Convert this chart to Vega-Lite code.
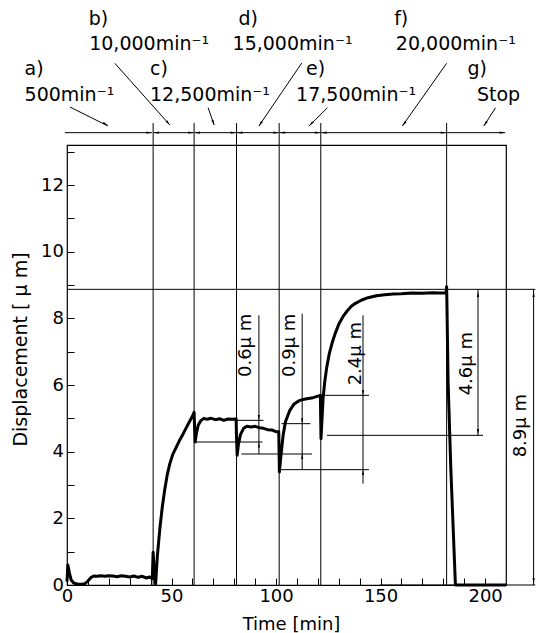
{
  "$schema": "https://vega.github.io/schema/vega-lite/v6.json",
  "width": 439,
  "height": 440,
  "autosize": {"type": "none"},
  "padding": {"left": 67, "top": 145, "right": 30, "bottom": 48},
  "background": "white",
  "config": {
    "view": {"stroke": "black", "strokeWidth": 1.2},
    "font": "DejaVu Sans",
    "text": {"font": "DejaVu Sans", "color": "black"},
    "axis": {"grid": false, "labelOverlap": false, "labelFlush": false, "labelBound": false}
  },
  "resolve": {"axis": {"x": "independent", "y": "independent"}},
  "datasets": {
    "curve": [
      {"t":0,"v":0.1},{"t":0.4,"v":0.6},{"t":1.1,"v":0.38},{"t":2,"v":0.15},{"t":3.2,"v":0.06},{"t":5,"v":0.03},{"t":7,"v":0.02},{"t":8.6,"v":0.04},{"t":10,"v":0.12},{"t":11.4,"v":0.22},{"t":12.8,"v":0.27},{"t":14.5,"v":0.26},{"t":16,"v":0.28},{"t":18,"v":0.26},{"t":20,"v":0.28},{"t":22,"v":0.27},{"t":24,"v":0.25},{"t":26,"v":0.28},{"t":28,"v":0.26},{"t":30,"v":0.24},{"t":32,"v":0.27},{"t":34,"v":0.23},{"t":36,"v":0.26},{"t":38,"v":0.21},{"t":39.5,"v":0.24},{"t":40.8,"v":0.19},{"t":41.2,"v":0.98},{"t":41.7,"v":0.45},{"t":42.4,"v":0.03},{"t":43.2,"v":0.85},{"t":44.4,"v":1.68},{"t":45.6,"v":2.35},{"t":46.8,"v":2.88},{"t":48,"v":3.32},{"t":49.2,"v":3.64},{"t":50.6,"v":3.92},{"t":52.4,"v":4.15},{"t":54,"v":4.36},{"t":55.6,"v":4.54},{"t":57.4,"v":4.76},{"t":59,"v":4.95},{"t":60.3,"v":5.1},{"t":60.8,"v":5.18},{"t":61.0,"v":4.8},{"t":61.3,"v":4.29},{"t":61.9,"v":4.55},{"t":62.8,"v":4.8},{"t":64,"v":4.93},{"t":65.5,"v":5.0},{"t":67,"v":4.97},{"t":69,"v":5.0},{"t":71,"v":4.96},{"t":73,"v":4.99},{"t":75,"v":4.94},{"t":77,"v":4.98},{"t":79,"v":4.97},{"t":80.9,"v":4.98},{"t":81.1,"v":4.4},{"t":81.4,"v":3.89},{"t":82,"v":4.22},{"t":83,"v":4.52},{"t":84.5,"v":4.7},{"t":86,"v":4.76},{"t":88,"v":4.74},{"t":90,"v":4.76},{"t":92,"v":4.72},{"t":94,"v":4.7},{"t":96,"v":4.66},{"t":98,"v":4.65},{"t":100,"v":4.6},{"t":101.3,"v":4.6},{"t":101.6,"v":3.39},{"t":102.2,"v":3.8},{"t":103.4,"v":4.5},{"t":104.5,"v":4.9},{"t":106.6,"v":5.24},{"t":108.5,"v":5.42},{"t":111,"v":5.53},{"t":114,"v":5.58},{"t":117.7,"v":5.62},{"t":120.8,"v":5.68},{"t":121.2,"v":5.69},{"t":121.5,"v":4.39},{"t":122,"v":5.0},{"t":122.5,"v":5.6},{"t":123.3,"v":6.1},{"t":124.3,"v":6.55},{"t":125.5,"v":6.95},{"t":127,"v":7.3},{"t":128.5,"v":7.58},{"t":130,"v":7.82},{"t":132,"v":8.05},{"t":134,"v":8.22},{"t":136,"v":8.36},{"t":138,"v":8.45},{"t":141,"v":8.55},{"t":144,"v":8.62},{"t":148,"v":8.68},{"t":152,"v":8.71},{"t":156,"v":8.73},{"t":160,"v":8.74},{"t":165,"v":8.76},{"t":170,"v":8.75},{"t":175,"v":8.77},{"t":178,"v":8.76},{"t":181.3,"v":8.77},{"t":181.6,"v":8.95},{"t":181.7,"v":8.6},{"t":182.3,"v":6.1},{"t":183.6,"v":3.5},{"t":185.8,"v":0},{"t":190,"v":0},{"t":200,"v":0},{"t":210,"v":0}
    ],
    "vlines": [
      {"t":41.2,"v":0,"v2":13.86},{"t":60.8,"v":0,"v2":13.86},{"t":81.1,"v":0,"v2":13.86},{"t":101.5,"v":0,"v2":13.86},{"t":121.4,"v":0,"v2":13.86},{"t":181.6,"v":0,"v2":13.86},
      {"t":91.8,"v":3.93,"v2":8.09},{"t":112.5,"v":3.46,"v2":8.14},{"t":141.6,"v":3.04,"v2":8.09},{"t":196.6,"v":4.49,"v2":8.87},{"t":223.2,"v":0,"v2":8.87}
    ],
    "hlines": [
      {"v":8.87,"t":0,"t2":224},{"v":0,"t":149.6,"t2":224},{"v":4.49,"t":124.4,"t2":199},{"v":5.69,"t":121,"t2":144.5},{"v":3.46,"t":101.8,"t2":144.5},{"v":4.84,"t":102.6,"t2":116.4},{"v":3.93,"t":83.5,"t2":117.2},{"v":4.94,"t":81.3,"t2":94},{"v":4.29,"t":61.2,"t2":93.5},
      {"v":13.57,"t":-1,"t2":40.6},{"v":13.57,"t":41.4,"t2":60.6},{"v":13.57,"t":61,"t2":80.9},{"v":13.57,"t":81.3,"t2":101.3},{"v":13.57,"t":101.7,"t2":121.2},{"v":13.57,"t":121.6,"t2":181.4},{"v":13.57,"t":181.8,"t2":209.6}
    ],
    "pointers": [
      {"t":1.4,"v":14.34,"t2":19.6,"v2":13.77},{"t":22.9,"v":15.65,"t2":49.2,"v2":13.8},{"t":67.5,"v":14.32,"t2":70.4,"v2":13.8},{"t":112.3,"v":15.66,"t2":91.8,"v2":13.77},{"t":124.6,"v":14.32,"t2":115.8,"v2":13.77},{"t":181.6,"v":15.65,"t2":160.4,"v2":13.77},{"t":205.0,"v":14.32,"t2":199.4,"v2":13.77}
    ],
    "heads": [
      {"t":39.3,"v":13.57,"dir":"right"},{"t":59.3,"v":13.57,"dir":"right"},{"t":79.6,"v":13.57,"dir":"right"},{"t":100.0,"v":13.57,"dir":"right"},{"t":119.9,"v":13.57,"dir":"right"},{"t":180.1,"v":13.57,"dir":"right"},{"t":208.3,"v":13.57,"dir":"right"},
      {"t":42.7,"v":13.57,"dir":"left"},{"t":62.3,"v":13.57,"dir":"left"},{"t":82.6,"v":13.57,"dir":"left"},{"t":103.0,"v":13.57,"dir":"left"},{"t":122.9,"v":13.57,"dir":"left"},
      {"t":91.8,"v":5.02,"dir":"down"},{"t":91.8,"v":4.21,"dir":"up"},{"t":112.5,"v":4.92,"dir":"down"},{"t":112.5,"v":3.86,"dir":"up"},{"t":141.6,"v":5.77,"dir":"down"},{"t":141.6,"v":3.38,"dir":"up"},{"t":196.6,"v":8.72,"dir":"up"},{"t":196.6,"v":4.6,"dir":"down"},{"t":223.2,"v":8.72,"dir":"up"},{"t":223.2,"v":0.13,"dir":"down"},
      {"t":18.45,"v":13.83,"dir":"a"},{"t":48.4,"v":13.86,"dir":"b"},{"t":70.0,"v":13.87,"dir":"c"},{"t":92.5,"v":13.83,"dir":"d"},{"t":116.7,"v":13.83,"dir":"e"},{"t":161.2,"v":13.83,"dir":"d"},{"t":200.1,"v":13.84,"dir":"d"}
    ],
    "labels": [
      {"t":-20.3,"v":15.29,"text":"a)"},{"t":-20.3,"v":14.52,"text":"500min⁻¹"},
      {"t":10.4,"v":16.79,"text":"b)"},{"t":10.6,"v":16.04,"text":"10,000min⁻¹"},
      {"t":39.7,"v":15.29,"text":"c)"},{"t":39.7,"v":14.52,"text":"12,500min⁻¹"},
      {"t":82.0,"v":16.79,"text":"d)"},{"t":79.2,"v":16.04,"text":"15,000min⁻¹"},
      {"t":114.3,"v":15.29,"text":"e)"},{"t":109.6,"v":14.52,"text":"17,500min⁻¹"},
      {"t":156.5,"v":16.79,"text":"f)"},{"t":157.3,"v":16.04,"text":"20,000min⁻¹"},
      {"t":191.6,"v":15.29,"text":"g)"},{"t":196.1,"v":14.52,"text":"Stop"}
    ],
    "rlabels": [
      {"t":87.9,"v":7.19,"text":"0.6μ m"},{"t":109.0,"v":7.19,"text":"0.9μ m"},{"t":140.5,"v":6.94,"text":"2.4μ m"},{"t":193.9,"v":6.64,"text":"4.6μ m"},{"t":219.6,"v":4.78,"text":"8.9μ m"}
    ]
  },
  "layer": [
    {
      "data": {"name": "curve"},
      "mark": {"type": "line", "color": "black", "strokeWidth": 3, "strokeJoin": "round"},
      "encoding": {
        "x": {
          "field": "t", "type": "quantitative",
          "scale": {"domain": [0, 210], "nice": false, "zero": false},
          "axis": {
            "values": [0,10,20,30,40,50,60,70,80,90,100,110,120,130,140,150,160,170,180,190,200],
            "labelExpr": "datum.value % 50 === 0 ? datum.label : ''",
            "offset": -7, "tickSize": 7, "domain": false, "ticks": true, "tickWidth": 1,
            "labelPadding": 2.5,
            "labelFont": "DejaVu Sans", "labelFontSize": 18, "labelColor": "black",
            "tickColor": "black", "labelOverlap": false, "labelFlush": false, "grid": false,
            "title": "Time [min]", "titleFont": "DejaVu Sans", "titleFontSize": 18, "titleFontWeight": "normal", "titleColor": "black",
            "titleX": 224, "titleY": 51, "titleBaseline": "alphabetic"
          }
        },
        "y": {
          "field": "v", "type": "quantitative",
          "scale": {"domain": [0, 13.2], "nice": false, "zero": false},
          "axis": {
            "values": [0,1,2,3,4,5,6,7,8,9,10,11,12,13],
            "labelExpr": "datum.value % 2 === 0 ? datum.label : ''",
            "offset": -7, "tickSize": 7, "domain": false, "ticks": true, "tickWidth": 1,
            "labelPadding": 3.5,
            "labelFont": "DejaVu Sans", "labelFontSize": 18, "labelColor": "black",
            "tickColor": "black", "labelOverlap": false, "labelFlush": false, "grid": false,
            "title": "Displacement [ μ m]", "titleFont": "DejaVu Sans", "titleFontSize": 19, "titleFontWeight": "normal", "titleColor": "black",
            "titleX": -47.3, "titleY": 204, "titleBaseline": "alphabetic"
          }
        }
      }
    },
    {
      "data": {"name": "vlines"},
      "mark": {"type": "rule", "color": "black", "strokeWidth": 1},
      "encoding": {
        "x": {"field": "t", "type": "quantitative", "scale": {"domain": [0, 210], "nice": false, "zero": false}, "axis": null},
        "y": {"field": "v", "type": "quantitative", "scale": {"domain": [0, 13.2], "nice": false, "zero": false}, "axis": null},
        "y2": {"field": "v2"}
      }
    },
    {
      "data": {"name": "hlines"},
      "mark": {"type": "rule", "color": "black", "strokeWidth": 1},
      "encoding": {
        "x": {"field": "t", "type": "quantitative", "scale": {"domain": [0, 210], "nice": false, "zero": false}, "axis": null},
        "x2": {"field": "t2"},
        "y": {"field": "v", "type": "quantitative", "scale": {"domain": [0, 13.2], "nice": false, "zero": false}, "axis": null}
      }
    },
    {
      "data": {"name": "pointers"},
      "mark": {"type": "rule", "color": "black", "strokeWidth": 1},
      "encoding": {
        "x": {"field": "t", "type": "quantitative", "scale": {"domain": [0, 210], "nice": false, "zero": false}, "axis": null},
        "x2": {"field": "t2"},
        "y": {"field": "v", "type": "quantitative", "scale": {"domain": [0, 13.2], "nice": false, "zero": false}, "axis": null},
        "y2": {"field": "v2"}
      }
    },
    {
      "data": {"name": "heads"},
      "transform": [{"filter": "datum.dir === 'right'"}],
      "mark": {"type": "point", "shape": "M0,-1L0.4,1L-0.4,1Z", "filled": true, "color": "black", "opacity": 1, "size": 30, "angle": 90},
      "encoding": {
        "x": {"field": "t", "type": "quantitative", "scale": {"domain": [0, 210], "nice": false, "zero": false}, "axis": null},
        "y": {"field": "v", "type": "quantitative", "scale": {"domain": [0, 13.2], "nice": false, "zero": false}, "axis": null}
      }
    },
    {
      "data": {"name": "heads"},
      "transform": [{"filter": "datum.dir === 'left'"}],
      "mark": {"type": "point", "shape": "M0,-1L0.4,1L-0.4,1Z", "filled": true, "color": "black", "opacity": 1, "size": 30, "angle": 270},
      "encoding": {
        "x": {"field": "t", "type": "quantitative", "scale": {"domain": [0, 210], "nice": false, "zero": false}, "axis": null},
        "y": {"field": "v", "type": "quantitative", "scale": {"domain": [0, 13.2], "nice": false, "zero": false}, "axis": null}
      }
    },
    {
      "data": {"name": "heads"},
      "transform": [{"filter": "datum.dir === 'up'"}],
      "mark": {"type": "point", "shape": "M0,-1L0.4,1L-0.4,1Z", "filled": true, "color": "black", "opacity": 1, "size": 30, "angle": 0},
      "encoding": {
        "x": {"field": "t", "type": "quantitative", "scale": {"domain": [0, 210], "nice": false, "zero": false}, "axis": null},
        "y": {"field": "v", "type": "quantitative", "scale": {"domain": [0, 13.2], "nice": false, "zero": false}, "axis": null}
      }
    },
    {
      "data": {"name": "heads"},
      "transform": [{"filter": "datum.dir === 'down'"}],
      "mark": {"type": "point", "shape": "M0,-1L0.4,1L-0.4,1Z", "filled": true, "color": "black", "opacity": 1, "size": 30, "angle": 180},
      "encoding": {
        "x": {"field": "t", "type": "quantitative", "scale": {"domain": [0, 210], "nice": false, "zero": false}, "axis": null},
        "y": {"field": "v", "type": "quantitative", "scale": {"domain": [0, 13.2], "nice": false, "zero": false}, "axis": null}
      }
    },
    {
      "data": {"name": "heads"},
      "transform": [{"filter": "datum.dir === 'a'"}],
      "mark": {"type": "point", "shape": "M0,-1L0.4,1L-0.4,1Z", "filled": true, "color": "black", "opacity": 1, "size": 30, "angle": 117},
      "encoding": {
        "x": {"field": "t", "type": "quantitative", "scale": {"domain": [0, 210], "nice": false, "zero": false}, "axis": null},
        "y": {"field": "v", "type": "quantitative", "scale": {"domain": [0, 13.2], "nice": false, "zero": false}, "axis": null}
      }
    },
    {
      "data": {"name": "heads"},
      "transform": [{"filter": "datum.dir === 'b'"}],
      "mark": {"type": "point", "shape": "M0,-1L0.4,1L-0.4,1Z", "filled": true, "color": "black", "opacity": 1, "size": 30, "angle": 138},
      "encoding": {
        "x": {"field": "t", "type": "quantitative", "scale": {"domain": [0, 210], "nice": false, "zero": false}, "axis": null},
        "y": {"field": "v", "type": "quantitative", "scale": {"domain": [0, 13.2], "nice": false, "zero": false}, "axis": null}
      }
    },
    {
      "data": {"name": "heads"},
      "transform": [{"filter": "datum.dir === 'c'"}],
      "mark": {"type": "point", "shape": "M0,-1L0.4,1L-0.4,1Z", "filled": true, "color": "black", "opacity": 1, "size": 30, "angle": 161},
      "encoding": {
        "x": {"field": "t", "type": "quantitative", "scale": {"domain": [0, 210], "nice": false, "zero": false}, "axis": null},
        "y": {"field": "v", "type": "quantitative", "scale": {"domain": [0, 13.2], "nice": false, "zero": false}, "axis": null}
      }
    },
    {
      "data": {"name": "heads"},
      "transform": [{"filter": "datum.dir === 'd'"}],
      "mark": {"type": "point", "shape": "M0,-1L0.4,1L-0.4,1Z", "filled": true, "color": "black", "opacity": 1, "size": 30, "angle": 214},
      "encoding": {
        "x": {"field": "t", "type": "quantitative", "scale": {"domain": [0, 210], "nice": false, "zero": false}, "axis": null},
        "y": {"field": "v", "type": "quantitative", "scale": {"domain": [0, 13.2], "nice": false, "zero": false}, "axis": null}
      }
    },
    {
      "data": {"name": "heads"},
      "transform": [{"filter": "datum.dir === 'e'"}],
      "mark": {"type": "point", "shape": "M0,-1L0.4,1L-0.4,1Z", "filled": true, "color": "black", "opacity": 1, "size": 30, "angle": 225},
      "encoding": {
        "x": {"field": "t", "type": "quantitative", "scale": {"domain": [0, 210], "nice": false, "zero": false}, "axis": null},
        "y": {"field": "v", "type": "quantitative", "scale": {"domain": [0, 13.2], "nice": false, "zero": false}, "axis": null}
      }
    },
    {
      "data": {"name": "labels"},
      "mark": {"type": "text", "align": "left", "baseline": "alphabetic", "font": "DejaVu Sans", "fontSize": 19, "color": "black"},
      "encoding": {
        "x": {"field": "t", "type": "quantitative", "scale": {"domain": [0, 210], "nice": false, "zero": false}, "axis": null},
        "y": {"field": "v", "type": "quantitative", "scale": {"domain": [0, 13.2], "nice": false, "zero": false}, "axis": null},
        "text": {"field": "text"}
      }
    },
    {
      "data": {"name": "rlabels"},
      "mark": {"type": "text", "align": "center", "baseline": "alphabetic", "angle": 270, "font": "DejaVu Sans", "fontSize": 18, "color": "black"},
      "encoding": {
        "x": {"field": "t", "type": "quantitative", "scale": {"domain": [0, 210], "nice": false, "zero": false}, "axis": null},
        "y": {"field": "v", "type": "quantitative", "scale": {"domain": [0, 13.2], "nice": false, "zero": false}, "axis": null},
        "text": {"field": "text"}
      }
    }
  ]
}
